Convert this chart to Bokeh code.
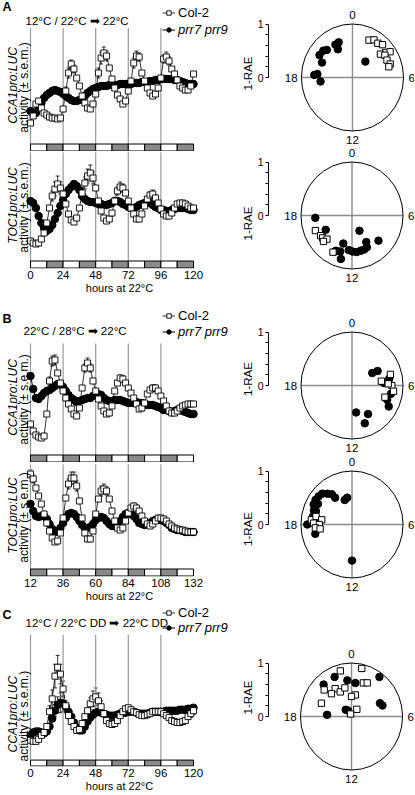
import math
from bokeh.plotting import figure
from bokeh.models import (Range1d, Label, Legend, LegendItem, FixedTicker, Whisker, TeeHead,
                          ColumnDataSource)
from bokeh.layouts import row, column
from bokeh.core.properties import value
from bokeh.embed import file_html
from bokeh.resources import INLINE

# ---------------- data ----------------
HOURS_A = list(range(0, 121, 2))
HOURS_B = list(range(12, 133, 2))
HOURS_C = list(range(0, 121, 2))

A_CCA1_COL = [21, 28, 40, 43, 36, 31, 29, 27, 26, 26, 25, 26, 35, 53, 71, 80, 75, 66, 58, 48, 41,
              36, 35, 40, 50, 71, 86, 91, 88, 76, 65, 56, 49, 45, 40, 43, 53, 63, 81, 88, 87,
              71, 63, 56, 51, 48, 50, 56, 66, 85, 87, 83, 75, 70, 64, 58, 56, 54, 54, 58, 70]
A_CCA1_PRR = [33, 30, 31, 37, 41, 46, 49, 51, 53, 54, 53, 52, 50, 48, 46, 44, 43, 43, 44, 45, 48,
              51, 53, 55, 56, 57, 58, 58, 58, 59, 59, 59, 59, 60, 60, 60, 60, 60, 61, 61, 61,
              62, 62, 62, 63, 63, 64, 64, 65, 65, 65, 65, 65, 64, 64, 63, 62, 61, 60, 60, 60]
A_TOC1_COL = [20, 18, 17, 18, 22, 28, 38, 53, 65, 72, 77, 73, 67, 57, 47, 41, 39, 43, 53, 68, 78,
              85, 88, 83, 73, 60, 50, 43, 40, 42, 48, 60, 70, 74, 73, 68, 60, 53, 47, 42, 42,
              47, 55, 62, 66, 67, 63, 58, 52, 47, 45, 45, 48, 53, 57, 58, 58, 57, 55, 53, 53]
A_TOC1_PRR = [60, 58, 53, 45, 38, 33, 30, 32, 36, 42, 48, 55, 61, 67, 71, 74, 77, 75, 71, 65, 62,
              60, 59, 59, 58, 57, 57, 56, 56, 57, 58, 60, 60, 59, 57, 56, 54, 53, 53, 54, 56,
              57, 58, 58, 58, 56, 54, 53, 51, 51, 50, 50, 51, 52, 53, 53, 53, 53, 52, 51, 51]
B_CCA1_COL = [31, 24, 20, 18, 17, 19, 41, 74, 94, 95, 82, 72, 64, 57, 51, 46, 41, 39, 47, 67, 87,
              92, 87, 74, 64, 56, 49, 44, 41, 42, 49, 64, 72, 77, 76, 72, 67, 62, 57, 51, 46,
              47, 52, 61, 65, 67, 67, 64, 59, 54, 49, 44, 42, 42, 44, 47, 49, 50, 51, 51, 51]
B_CCA1_PRR = [79, 66, 57, 56, 59, 62, 64, 65, 67, 69, 71, 71, 68, 64, 60, 57, 55, 53, 54, 55, 56,
              57, 57, 59, 60, 61, 60, 57, 55, 54, 54, 55, 55, 55, 54, 53, 52, 52, 53, 53, 52,
              52, 51, 50, 50, 50, 49, 48, 47, 45, 45, 44, 43, 44, 45, 45, 44, 43, 42, 41, 41]
B_TOC1_COL = [95, 90, 81, 73, 65, 55, 46, 38, 31, 27, 28, 36, 51, 71, 85, 91, 91, 83, 68, 51, 36,
              30, 30, 38, 55, 70, 78, 80, 78, 70, 58, 48, 41, 39, 41, 48, 56, 61, 63, 61, 58,
              53, 48, 45, 43, 45, 48, 51, 51, 50, 48, 45, 43, 41, 40, 39, 39, 38, 37, 37, 37]
B_TOC1_PRR = [65, 58, 53, 52, 53, 53, 50, 45, 40, 37, 38, 41, 46, 51, 55, 56, 55, 52, 48, 44, 41,
              41, 42, 45, 49, 51, 52, 51, 48, 45, 43, 43, 45, 48, 52, 55, 56, 55, 53, 50, 46,
              45, 44, 45, 46, 48, 49, 50, 49, 48, 46, 44, 41, 40, 39, 39, 38, 37, 37, 37, 37]
C_CCA1_COL = [20, 19, 19, 21, 25, 28, 34, 49, 62, 85, 94, 87, 72, 55, 45, 39, 34, 30, 31, 37, 44,
              50, 57, 62, 64, 60, 54, 47, 40, 37, 36, 37, 40, 45, 49, 52, 53, 51, 49, 48, 46,
              45, 45, 46, 47, 49, 49, 49, 49, 47, 45, 43, 40, 39, 38, 38, 39, 40, 44, 47, 50]
C_CCA1_PRR = [25, 28, 29, 29, 28, 27, 29, 34, 42, 50, 56, 58, 57, 54, 49, 44, 38, 33, 30, 30, 34,
              39, 43, 46, 48, 49, 48, 47, 46, 45, 45, 45, 46, 47, 48, 48, 49, 49, 49, 48, 47,
              47, 47, 47, 48, 49, 49, 49, 49, 49, 50, 50, 50, 50, 50, 51, 51, 51, 52, 52, 53]

# s.e.m. bars that are visible (hour, s.e.m.)
A_CCA1_COL_ERR_T = [26, 28, 30, 32, 50, 52, 54, 56, 76, 78, 80, 98, 100, 102]
A_CCA1_COL_ERR = [4, 5, 4, 4, 5, 6, 6, 5, 5, 5, 4, 4, 5, 4]
A_TOC1_COL_ERR_T = [16, 18, 20, 22, 40, 42, 44, 46, 64, 66, 68, 88, 90, 92]
A_TOC1_COL_ERR = [5, 7, 8, 6, 6, 7, 8, 6, 4, 5, 4, 3, 4, 3]
B_CCA1_COL_ERR_T = [26, 28, 30, 52, 54, 56, 78, 80, 102, 104]
B_CCA1_COL_ERR = [4, 5, 5, 4, 5, 4, 3, 3, 3, 3]
B_TOC1_COL_ERR_T = [12, 14, 40, 42, 44, 46, 64, 66, 68, 88, 90]
B_TOC1_COL_ERR = [4, 4, 5, 6, 6, 5, 5, 5, 4, 3, 3]
C_CCA1_COL_ERR_T = [14, 16, 18, 20, 22, 24, 44, 46, 48, 50, 52, 118, 120]
C_CCA1_COL_ERR = [6, 9, 12, 12, 10, 8, 6, 8, 9, 8, 6, 4, 4]
C_CCA1_PRR_ERR_T = [18, 20, 22, 24, 26]
C_CCA1_PRR_ERR = [6, 8, 10, 8, 6]

LD_A = [0, 12, 24, 36, 48, 60, 72, 84, 96, 108]
LD_A_FILL = ["white", "#8a8a8a"] * 5
LD_B = [12, 24, 36, 48, 60, 72, 84, 96, 108, 120]
LD_B_FILL = ["#8a8a8a", "white"] * 5
GRID_A = [0, 24, 48, 72, 96]
GRID_B = [12, 36, 60, 84, 108]
TICKS_A = [0, 24, 48, 72, 96, 120]
TICKS_B = [12, 36, 60, 84, 108, 132]

# phase (h) and 1-RAE of individual seedlings
A1_COL_PH = [1.66, 2.06, 2.52, 2.92, 3.61, 3.79, 3.43, 3.78, 4.29, 4.75, 4.95]
A1_COL_R = [0.77, 0.82, 0.81, 0.85, 0.80, 0.88, 0.70, 0.76, 0.75, 0.78, 0.74]
A1_PRR_PH = [2.69, 22.51, 22.1, 22.1, 21.05, 20.75, 20.2, 19.67, 18.25, 18.35, 17.55]
A1_PRR_R = [0.39, 0.71, 0.60, 0.70, 0.72, 0.76, 0.77, 0.66, 0.75, 0.69, 0.63]
A2_COL_PH = [16.57, 15.9, 15.6, 15.2, 15.27, 13.9]
A2_COL_R = [0.77, 0.72, 0.71, 0.66, 0.74, 0.78]
A2_PRR_PH = [17.77, 16.17, 10.19, 13.2, 13.7, 13.26, 13.0, 12.37, 11.93, 11.48, 11.04, 10.64,
             10.25, 10.04, 8.81, 13.76]
A2_PRR_R = [0.72, 0.58, 0.32, 0.55, 0.73, 0.71, 0.84, 0.65, 0.675, 0.69, 0.68, 0.68, 0.66,
            0.57, 0.70, 0.75]
B1_COL_PH = [4.97, 5.47, 6.0, 6.5, 7.25, 5.83]
B1_COL_R = [0.78, 0.58, 0.78, 0.82, 0.68, 0.71]
B1_PRR_PH = [3.97, 4.11, 5.73, 5.35, 6.77, 7.42, 7.91, 11.39, 9.97, 10.7]
B1_PRR_R = [0.46, 0.57, 0.63, 0.74, 0.78, 0.74, 0.82, 0.51, 0.62, 0.75]
B2_COL_PH = [18.42, 18.8, 18.56, 18.13, 18.0, 17.67, 17.5]
B2_COL_R = [0.80, 0.72, 0.60, 0.75, 0.64, 0.72, 0.63]
B2_PRR_PH = [18.0, 17.09, 18.73, 19.29, 19.77, 20.19, 20.58, 20.98, 21.34, 21.67, 21.77, 22.85,
             23.29, 12.0, 20.0, 19.3, 18.59]
B2_PRR_R = [0.875, 0.74, 0.78, 0.79, 0.84, 0.85, 0.84, 0.82, 0.75, 0.69, 0.60, 0.48, 0.51,
            0.675, 0.77, 0.75, 0.70]
C_COL_PH = [23.04, 0.84, 1.35, 1.74, 20.86, 21.89, 21.15, 22.29, 23.09, 0.7, 0.0, 19.52, 2.51, 22.6]
C_COL_R = [0.88, 0.92, 0.67, 0.70, 0.73, 0.61, 0.58, 0.51, 0.55, 0.41, 0.375, 0.64, 0.17, 0.05]
C_PRR_PH = [22.39, 21.17, 23.54, 0.46, 2.43, 4.39, 4.75, 18.25, 21.2, 21.9]
C_PRR_R = [0.81, 0.81, 0.68, 0.63, 0.92, 0.61, 0.64, 0.48, 0.17, 0.13]

# ---------------- layout helpers ----------------
FONT = "Liberation Sans"
WL = 238
WR = 414 - WL
X_T0 = 30.0          # x of first hour
PXH = 163.0 / 120.0  # px per hour


def add_err(p, hours, vals, et, ev):
    idx = {h: i for i, h in enumerate(hours)}
    src = ColumnDataSource(dict(
        base=et,
        upper=[vals[idx[t]] + e for t, e in zip(et, ev)],
        lower=[vals[idx[t]] - e for t, e in zip(et, ev)]))
    p.add_layout(Whisker(source=src, base="base", upper="upper", lower="lower",
                         line_color="black", line_width=0.8, level="underlay",
                         upper_head=TeeHead(size=4, line_width=0.8, line_color="black"),
                         lower_head=TeeHead(size=4, line_width=0.8, line_color="black")))


def ts_panel(top, fbot, bot, ld_top, ld_h, t0, hours, col, prr, ld_starts, ld_fill,
             grid_ticks, grid_top, ylab, ylab_y, col_err, prr_err=None,
             axis_ticks=None, header=None):
    H = bot - top
    fh = fbot - top
    B = H - fh

    def dx(rx):
        return t0 + (rx - X_T0) / PXH

    def dy(ry):
        return ld_top - ry

    p = figure(width=WL, height=H, x_range=Range1d(dx(0.0), dx(WL)),
               y_range=Range1d(dy(fbot), dy(top)), output_backend="svg",
               toolbar_location=None, min_border_left=0, min_border_right=0,
               min_border_top=0, min_border_bottom=B,
               x_axis_location="below" if axis_ticks else None, y_axis_location=None)
    p.grid.visible = False
    p.outline_line_color = None
    p.background_fill_color = "white"
    p.border_fill_color = "white"

    p.segment(x0=grid_ticks, y0=[0] * len(grid_ticks), x1=grid_ticks,
              y1=[grid_top] * len(grid_ticks), line_color="#9a9a9a", line_width=1.2)
    p.quad(left=ld_starts, right=[s + 12 for s in ld_starts], bottom=-ld_h, top=0,
           fill_color=ld_fill, line_color="black", line_width=1)

    add_err(p, hours, col, col_err[0], col_err[1])
    if prr_err:
        add_err(p, hours, prr, prr_err[0], prr_err[1])

    lp = p.line(hours, prr, line_color="black", line_width=1)
    sp = p.scatter(hours, prr, marker="circle", size=7.5, fill_color="black", line_color="black")
    lc = p.line(hours, col, line_color="black", line_width=0.8)
    sc = p.scatter(hours, col, marker="square", size=6, fill_color="white",
                   line_color="black", line_width=0.9)

    p.add_layout(Label(x=dx(12.5), y=dy(ylab_y), text=ylab, angle=math.pi / 2,
                       text_align="center", text_baseline="middle", text_font=FONT,
                       text_font_size="12px", text_font_style="italic", text_color="black"))
    p.add_layout(Label(x=dx(23.0), y=dy(ylab_y + 2), text="activity (\u00b1 s.e.m.)",
                       angle=math.pi / 2, text_align="center", text_baseline="middle",
                       text_font=FONT, text_font_size="12px", text_color="black"))

    if axis_ticks:
        ax = p.xaxis[0]
        ax.ticker = FixedTicker(ticks=axis_ticks)
        ax.axis_line_color = None
        ax.major_tick_line_color = None
        ax.minor_tick_line_color = None
        ax.major_tick_in = 0
        ax.major_tick_out = 0
        ax.minor_tick_in = 0
        ax.minor_tick_out = 0
        ax.major_label_standoff = 2
        ax.major_label_text_font = FONT
        ax.major_label_text_font_size = "11.5px"
        ax.major_label_text_color = "black"
        ax.axis_label = "hours at 22\u00b0C"
        ax.axis_label_standoff = 0
        ax.axis_label_text_font = FONT
        ax.axis_label_text_font_size = "11px"
        ax.axis_label_text_font_style = "normal"
        ax.axis_label_text_color = "black"

    if header:
        p.add_layout(Label(x=dx(2.0), y=dy(header["ly"]), text=header["letter"],
                           text_align="left", text_baseline="middle", text_font=FONT,
                           text_font_size="12.5px", text_font_style="bold", text_color="black"))
        p.add_layout(Label(x=dx(header["tx"]), y=dy(header["ty"]), text=header["title"],
                           text_align="left", text_baseline="middle", text_font=FONT,
                           text_font_size="11.5px", text_color="black"))
        leg_h = 15.0
        for yc, lab, rends, style in ((header["l1"], "Col-2", [lc, sc], "normal"),
                                      (header["l2"], "prr7 prr9", [lp, sp], "italic")):
            loc_y = fh - (yc - top) - leg_h / 2
            leg = Legend(items=[LegendItem(label=lab, renderers=rends)],
                         location=(162.0, loc_y), orientation="vertical",
                         border_line_color=None, background_fill_alpha=0, padding=0,
                         margin=0, spacing=0, glyph_width=13, glyph_height=11,
                         label_standoff=3, label_text_font=FONT, label_text_font_size="13px",
                         label_text_font_style=style, label_text_color="black",
                         label_height=11)
            p.add_layout(leg)
    return p


AXIS_X = 261.0
RAD = 53.5


def circ_panel(top, bot, cx, cy, col_ph, col_r, prr_ph, prr_r):
    H = bot - top
    bl = int(AXIS_X) - WL
    r_left = WL + bl
    r_right = WL + WR
    p = figure(width=WR, height=H,
               x_range=Range1d((r_left - cx) / RAD, (r_right - cx) / RAD),
               y_range=Range1d((cy - bot) / RAD, (cy - top) / RAD),
               output_backend="svg", toolbar_location=None,
               min_border_left=bl, min_border_right=0, min_border_top=0, min_border_bottom=0,
               x_axis_location=None, y_axis_location="left")
    p.grid.visible = False
    p.outline_line_color = None
    p.background_fill_color = "white"
    p.border_fill_color = "white"

    ax = p.yaxis[0]
    ax.bounds = (0, 1)
    ax.ticker = FixedTicker(ticks=[0, 1], minor_ticks=[0.2, 0.4, 0.6, 0.8])
    ax.axis_line_color = "black"
    ax.axis_line_width = 1
    ax.major_tick_in = 0
    ax.major_tick_out = 3
    ax.minor_tick_in = 0
    ax.minor_tick_out = 3
    ax.minor_tick_line_color = "black"
    ax.major_label_standoff = 2
    ax.major_label_text_font = FONT
    ax.major_label_text_font_size = "10.5px"
    ax.major_label_text_color = "black"
    ax.axis_label = "1-RAE"
    ax.axis_label_standoff = 1
    ax.axis_label_text_font = FONT
    ax.axis_label_text_font_size = "11.5px"
    ax.axis_label_text_font_style = "normal"
    ax.axis_label_text_color = "black"

    p.segment(x0=[-1, 0], y0=[0, -1], x1=[1, 0], y1=[0, 1], line_color="#8c8c8c",
              line_width=1.4)
    p.ellipse(x=[0], y=[0], width=2, height=2, fill_color=None, line_color="black",
              line_width=1)
    p.text(x=[0, 1.16, 0, -1.2], y=[1.16, 0, -1.16, 0], text=["0", "6", "12", "18"],
           text_align="center", text_baseline="middle", text_font=value(FONT),
           text_font_size="11.5px", text_color="black")

    def polar(ph, r):
        xs = [ri * math.sin(2 * math.pi * h / 24.0) for h, ri in zip(ph, r)]
        ys = [ri * math.cos(2 * math.pi * h / 24.0) for h, ri in zip(ph, r)]
        return xs, ys

    px, py = polar(prr_ph, prr_r)
    p.scatter(px, py, marker="circle", size=7.5, fill_color="black", line_color="black")
    qx, qy = polar(col_ph, col_r)
    p.scatter(qx, qy, marker="square", size=6.3, fill_color="white", line_color="black",
              line_width=1)
    return p


left = [
    ts_panel(0, 151, 151, 143.5, 7, 0, HOURS_A, A_CCA1_COL, A_CCA1_PRR, LD_A, LD_A_FILL,
             GRID_A, 116, "CCA1pro:LUC", 85, (A_CCA1_COL_ERR_T, A_CCA1_COL_ERR),
             header=dict(letter="A", ly=6, title="12\u00b0C / 22\u00b0C \u27a1 22\u00b0C",
                         tx=25, ty=20, l1=12, l2=29)),
    ts_panel(151, 268, 298, 260.5, 7, 0, HOURS_A, A_TOC1_COL, A_TOC1_PRR, LD_A, LD_A_FILL,
             GRID_A, 108.5, "TOC1pro:LUC", 205, (A_TOC1_COL_ERR_T, A_TOC1_COL_ERR),
             axis_ticks=TICKS_A),
    ts_panel(298, 462, 462, 454.5, 7, 12, HOURS_B, B_CCA1_COL, B_CCA1_PRR, LD_B, LD_B_FILL,
             GRID_B, 111.5, "CCA1pro:LUC", 397, (B_CCA1_COL_ERR_T, B_CCA1_COL_ERR),
             header=dict(letter="B", ly=318, title="22\u00b0C / 28\u00b0C \u27a1 22\u00b0C",
                         tx=23, ty=330, l1=315, l2=331)),
    ts_panel(462, 576, 606, 568.5, 7, 12, HOURS_B, B_TOC1_COL, B_TOC1_PRR, LD_B, LD_B_FILL,
             GRID_B, 104.5, "TOC1pro:LUC", 515, (B_TOC1_COL_ERR_T, B_TOC1_COL_ERR),
             axis_ticks=TICKS_B),
    ts_panel(606, 768, 794, 761.5, 6, 0, HOURS_C, C_CCA1_COL, C_CCA1_PRR, LD_A, LD_A_FILL,
             GRID_A, 127, "CCA1pro:LUC", 715, (C_CCA1_COL_ERR_T, C_CCA1_COL_ERR),
             prr_err=(C_CCA1_PRR_ERR_T, C_CCA1_PRR_ERR), axis_ticks=TICKS_A,
             header=dict(letter="C", ly=615,
                         title="12\u00b0C / 22\u00b0C DD \u27a1 22\u00b0C DD",
                         tx=25, ty=623, l1=614.5, l2=629)),
]

right = [
    circ_panel(0, 146, 349, 77, A1_COL_PH, A1_COL_R, A1_PRR_PH, A1_PRR_R),
    circ_panel(146, 300, 348.5, 215, A2_COL_PH, A2_COL_R, A2_PRR_PH, A2_PRR_R),
    circ_panel(300, 457, 348.5, 385, B1_COL_PH, B1_COL_R, B1_PRR_PH, B1_PRR_R),
    circ_panel(457, 600, 348.5, 524, B2_COL_PH, B2_COL_R, B2_PRR_PH, B2_PRR_R),
    circ_panel(600, 794, 348, 716, C_COL_PH, C_COL_R, C_PRR_PH, C_PRR_R),
]

layout = row(column(*left, spacing=0), column(*right, spacing=0), spacing=0)
open("out.html", "w").write(file_html(layout, INLINE, title="Figure"))
